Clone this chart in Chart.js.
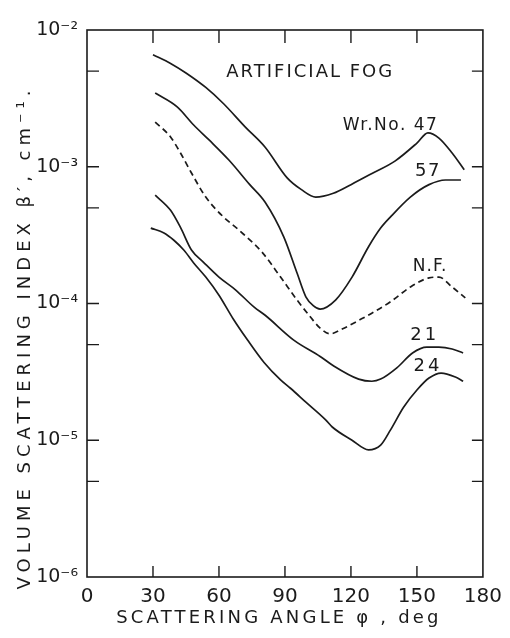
<!DOCTYPE html>
<html>
<head>
<meta charset="utf-8">
<script src="https://cdn.jsdelivr.net/npm/chart.js@4.4.1/dist/chart.umd.min.js"></script>
<style>
  html, body { margin: 0; padding: 0; background: #fff; }
  #wrap { width: 510px; height: 638px; }
</style>
</head>
<body>
<div id="wrap"><canvas id="fog-chart"></canvas></div>
<script>
"use strict"

// scattering angle (deg) and volume scattering index (cm^-1)
const angle47 = [30, 38, 45, 54, 62, 72, 81, 91, 97.5, 104, 112, 120, 130, 140, 150, 155, 160, 166, 171.5];
const beta47  = [6.6e-3, 5.7e-3, 4.85e-3, 3.8e-3, 2.9e-3, 1.95e-3, 1.39e-3, 8.3e-4, 6.8e-4, 6.0e-4, 6.4e-4, 7.4e-4, 9.0e-4, 1.1e-3, 1.49e-3, 1.77e-3, 1.62e-3, 1.26e-3, 9.5e-4];

const angle57 = [31, 41, 48.5, 55.5, 64.5, 74, 81, 89.5, 95.5, 99.5, 103, 106, 113, 120.5, 128, 133.5, 138, 147, 155.5, 163, 170];
const beta57  = [3.46e-3, 2.74e-3, 2.02e-3, 1.57e-3, 1.12e-3, 7.4e-4, 5.5e-4, 3.06e-4, 1.67e-4, 1.12e-4, 9.6e-5, 9.1e-5, 1.06e-4, 1.56e-4, 2.6e-4, 3.56e-4, 4.3e-4, 6.0e-4, 7.4e-4, 8.0e-4, 8.0e-4];

const angleNF = [31, 38, 42.5, 47.5, 54, 62, 69, 79.5, 88, 95.5, 101.5, 106, 110.5, 116, 124, 129.5, 138, 147, 155.5, 160, 166, 172];
const betaNF  = [2.12e-3, 1.65e-3, 1.26e-3, 9.0e-4, 6.0e-4, 4.3e-4, 3.45e-4, 2.38e-4, 1.56e-4, 1.06e-4, 8.0e-5, 6.6e-5, 6.0e-5, 6.5e-5, 7.6e-5, 8.5e-5, 1.03e-4, 1.32e-4, 1.54e-4, 1.56e-4, 1.32e-4, 1.1e-4];

const angle21 = [31, 38, 42.5, 47.5, 53, 60, 67.5, 76, 81, 94, 106, 111.5, 123.5, 129.5, 133.5, 141, 148, 154.5, 160, 166, 171];
const beta21  = [6.2e-4, 4.8e-4, 3.6e-4, 2.46e-4, 2.0e-4, 1.56e-4, 1.26e-4, 9.4e-5, 8.2e-5, 5.4e-5, 4.1e-5, 3.55e-5, 2.8e-5, 2.7e-5, 2.8e-5, 3.4e-5, 4.35e-5, 4.8e-5, 4.8e-5, 4.65e-5, 4.35e-5];

const angle24 = [29, 35, 39.5, 44, 48.5, 54, 60, 66.5, 73, 80.5, 88, 92.5, 99.5, 108.5, 111.5, 120.5, 128, 133.5, 138, 144, 150, 155.5, 161, 167.5, 171];
const beta24  = [3.56e-4, 3.28e-4, 2.9e-4, 2.46e-4, 1.98e-4, 1.56e-4, 1.15e-4, 7.7e-5, 5.4e-5, 3.7e-5, 2.76e-5, 2.4e-5, 1.9e-5, 1.41e-5, 1.25e-5, 1.0e-5, 8.5e-6, 9.2e-6, 1.19e-5, 1.75e-5, 2.33e-5, 2.85e-5, 3.1e-5, 2.9e-5, 2.7e-5];

const xTicks = [0, 30, 60, 90, 120, 150, 180];
const yTicks = [1e-6, 1e-5, 1e-4, 1e-3, 1e-2];
const yTickLabels = ["10⁻⁶", "10⁻⁵", "10⁻⁴", "10⁻³", "10⁻²"];
const yMinorTicks = [5e-6, 5e-5, 5e-4, 5e-3];

const ink = "#1b1b1b";
const font = "'DejaVu Sans', sans-serif";

function pts(xs, ys) {
  return xs.map((x, i) => ({ x: x, y: ys[i] }));
}

function curve(xs, ys, dash) {
  return {
    data: pts(xs, ys),
    borderColor: ink,
    borderWidth: 1.7,
    borderDash: dash || [],
    pointRadius: 0,
    cubicInterpolationMode: "monotone",
    fill: false
  };
}

// frame, inward ticks, axis titles and curve labels
const decorations = {
  id: "decorations",
  afterDraw(chart) {
    const ctx = chart.ctx;
    const a = chart.chartArea;
    const xs = chart.scales.x, ys = chart.scales.y;
    ctx.save();
    ctx.strokeStyle = ink;
    ctx.lineWidth = 1.6;
    ctx.strokeRect(a.left, a.top, a.right - a.left, a.bottom - a.top);

    ctx.lineWidth = 1.4;
    ctx.beginPath();
    xTicks.slice(1, -1).forEach(v => {
      const px = xs.getPixelForValue(v);
      ctx.moveTo(px, a.bottom); ctx.lineTo(px, a.bottom - 11);
      ctx.moveTo(px, a.top); ctx.lineTo(px, a.top + 13);
    });
    yTicks.slice(1, -1).concat(yMinorTicks).forEach(v => {
      const py = ys.getPixelForValue(v);
      ctx.moveTo(a.left, py); ctx.lineTo(a.left + 12, py);
      ctx.moveTo(a.right, py); ctx.lineTo(a.right - 11, py);
    });
    ctx.stroke();

    ctx.fillStyle = ink;
    ctx.textAlign = "center";
    ctx.textBaseline = "middle";

    // x title
    ctx.letterSpacing = "3.2px";
    ctx.font = "18px " + font;
    ctx.fillText("SCATTERING ANGLE φ , deg", (a.left + a.right) / 2 - 6, a.bottom + 41);

    // y title
    ctx.save();
    ctx.translate(25, (a.top + a.bottom) / 2 + 34);
    ctx.rotate(-Math.PI / 2);
    ctx.letterSpacing = "5px";
    ctx.font = "18px " + font;
    ctx.fillText("VOLUME SCATTERING INDEX β′, cm⁻¹.", 0, 0);
    ctx.restore();

    // labels inside the plot
    const labels = [
      { t: "ARTIFICIAL FOG", x: 101.5, y: 4.9e-3, s: 18, sp: 2 },
      { t: "Wr.No. 47", x: 138, y: 2.0e-3, s: 17, sp: 1.5 },
      { t: "57", x: 155, y: 9.3e-4, s: 18, sp: 1.5 },
      { t: "N.F.", x: 156, y: 1.85e-4, s: 17, sp: 1 },
      { t: "21", x: 153.5, y: 5.9e-5, s: 18, sp: 3 },
      { t: "24", x: 155, y: 3.5e-5, s: 18, sp: 3 }
    ];
    labels.forEach(l => {
      ctx.letterSpacing = l.sp + "px";
      ctx.font = l.s + "px " + font;
      ctx.fillText(l.t, xs.getPixelForValue(l.x), ys.getPixelForValue(l.y));
    });
    ctx.restore();
  }
};

new Chart(document.getElementById("fog-chart"), {
  type: "line",
  data: {
    datasets: [
      curve(angle47, beta47),
      curve(angle57, beta57),
      curve(angleNF, betaNF, [6, 4]),
      curve(angle21, beta21),
      curve(angle24, beta24)
    ]
  },
  options: {
    responsive: true,
    maintainAspectRatio: false,
    animation: false,
    layout: { padding: { top: 30, right: 16, left: 0, bottom: 0 } },
    plugins: {
      legend: { display: false },
      tooltip: { enabled: false }
    },
    scales: {
      x: {
        type: "linear",
        min: 0,
        max: 180,
        grid: { display: false, drawTicks: false },
        border: { display: false },
        afterBuildTicks: s => { s.ticks = xTicks.map(v => ({ value: v })); },
        afterFit: s => { s.height = 61; },
        ticks: {
          color: ink,
          padding: 8,
          maxRotation: 0,
          font: { family: font, size: 20 }
        }
      },
      y: {
        type: "logarithmic",
        min: 1e-6,
        max: 1e-2,
        grid: { display: false, drawTicks: false },
        border: { display: false },
        afterBuildTicks: s => { s.ticks = yTicks.map(v => ({ value: v })); },
        afterFit: s => { s.width = 87; },
        ticks: {
          color: ink,
          padding: 9,
          font: { family: font, size: 19 },
          callback: v => yTickLabels[yTicks.indexOf(v)]
        }
      }
    }
  },
  plugins: [decorations]
});
</script>
</body>
</html>
